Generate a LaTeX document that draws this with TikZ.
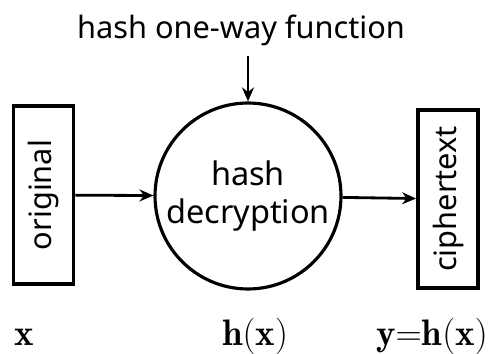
\documentclass[tikz,border=0pt]{standalone}
\usepackage{fontspec}
\setsansfont{Noto Sans}
\usepackage{tikz}
\usetikzlibrary{arrows.meta, positioning}

\begin{document}
\begin{tikzpicture}[
      x=0.02cm, y=-0.02cm,
      font=\sffamily\fontsize{17.5}{21}\selectfont,
      databox/.style={draw, line width=2.2pt, minimum width=3.56cm, minimum height=1.2cm, rotate=90, inner sep=0pt},
      hashcirc/.style={draw, circle, line width=1.8pt, minimum size=3.72cm, align=center, inner sep=0pt, font=\sffamily\fontsize{18.5}{22}\selectfont},
      lbl/.style={font=\fontsize{21}{24}\selectfont, anchor=base},
      arr/.style={-{Stealth[length=2.8mm, width=2.4mm]}, line width=1.6pt}, every node/.style={inner sep=2pt}
    ]
    \useasboundingbox (0,0) rectangle (490,354);
    \node[databox] (orig) at (43.5,195) {original};
    \node[hashcirc] (circ) at (248,196) {hash\\decryption};
    \node[databox] (ciph) at (448,199) {ciphertext};
    \node[inner sep=0pt] (title) at (241,30) {hash one-way function};

    \node[lbl] (lx) at (24,346) {$\mathbf{x}$};
    \node[lbl] (lh) at (255,346) {$\mathbf{h(x)}$};
    \node[lbl] (ly) at (432,346) {$\mathbf{y{=}h(x)}$};

    \draw[arr] (orig) -- (circ);
    \draw[arr] (circ) -- (ciph);
    \draw[arr, shorten <=6pt] (title.south -| circ.north) -- (circ.north);
  \end{tikzpicture}
\end{document}
